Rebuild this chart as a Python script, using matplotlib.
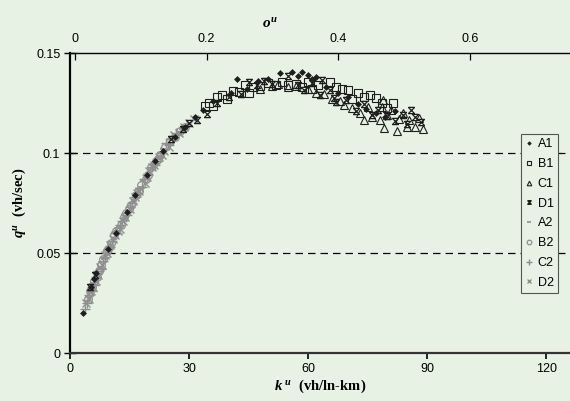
import numpy as np
import matplotlib
matplotlib.use("Agg")
import matplotlib.pyplot as plt
from matplotlib.path import Path

# (k [vh/ln-km], q [vh/sec])
A1 = [(3.3, 0.020), (5.2, 0.033), (6.0, 0.037), (6.6, 0.040), (9.5, 0.052), (11.5, 0.060),
      (14.3, 0.0705), (16.5, 0.079), (19.5, 0.089), (21.5, 0.096), (23.5, 0.101), (26.5, 0.108),
      (29.0, 0.113), (31.5, 0.118), (33.5, 0.1215), (36.0, 0.126), (40.5, 0.130), (42.0, 0.137),
      (44.5, 0.132), (47.5, 0.136), (50.0, 0.137), (53.0, 0.140), (56.0, 0.1405), (57.5, 0.1385),
      (58.5, 0.1405), (60.0, 0.139), (61.0, 0.137), (62.0, 0.138), (64.5, 0.133), (67.5, 0.130),
      (70.0, 0.128), (72.5, 0.1245), (74.5, 0.122), (77.0, 0.120), (79.5, 0.118), (82.0, 0.121)]
B1 = [(34.0, 0.1235), (35.0, 0.125), (36.0, 0.1235), (37.0, 0.128), (38.3, 0.129), (39.5, 0.127),
      (41.0, 0.131), (42.5, 0.1305), (44.0, 0.134), (45.0, 0.130), (46.0, 0.133), (48.0, 0.1335),
      (50.0, 0.135), (52.0, 0.134), (53.5, 0.1355), (55.0, 0.134), (57.0, 0.1345), (58.5, 0.133),
      (60.0, 0.1355), (61.0, 0.132), (62.5, 0.134), (65.5, 0.1355), (67.0, 0.133), (68.5, 0.132),
      (70.0, 0.1315), (71.0, 0.127), (72.5, 0.130), (74.0, 0.128), (75.5, 0.129), (77.0, 0.1275),
      (78.5, 0.125), (80.0, 0.1225), (81.5, 0.125)]
C1 = [(48.0, 0.132), (51.0, 0.1335), (52.5, 0.1345), (55.0, 0.133), (57.0, 0.1335), (60.0, 0.132),
      (62.0, 0.130), (64.0, 0.1295), (66.0, 0.127), (68.0, 0.126), (69.0, 0.124), (71.0, 0.1225),
      (73.0, 0.120), (74.0, 0.1165), (75.0, 0.123), (76.0, 0.118), (78.0, 0.1165), (78.6, 0.123),
      (79.0, 0.1265), (79.2, 0.1125), (80.0, 0.119), (81.0, 0.1215), (82.4, 0.111), (83.0, 0.117),
      (84.0, 0.120), (85.0, 0.113), (85.5, 0.1165), (87.0, 0.113), (88.0, 0.1175), (89.0, 0.112)]
D1 = [(5.0, 0.033), (6.3, 0.039), (25.5, 0.107), (28.5, 0.112), (30.0, 0.115), (32.0, 0.1165),
      (34.5, 0.1195), (37.0, 0.125), (40.0, 0.128), (43.0, 0.1295), (45.0, 0.1355), (47.0, 0.134),
      (49.0, 0.136), (51.0, 0.1345), (55.0, 0.1385), (57.5, 0.134), (59.0, 0.1315), (61.0, 0.135),
      (63.0, 0.129), (63.5, 0.1365), (65.5, 0.1315), (66.5, 0.1275), (67.0, 0.1255), (69.5, 0.1265),
      (72.0, 0.121), (74.0, 0.1245), (76.0, 0.119), (77.5, 0.1215), (80.0, 0.1185), (82.0, 0.116),
      (84.0, 0.119), (85.0, 0.1145), (86.0, 0.1215), (87.0, 0.118), (88.5, 0.1155)]
A2 = [(4.2, 0.026), (4.8, 0.028), (5.1, 0.030), (5.9, 0.035), (6.3, 0.037), (7.4, 0.042),
      (7.9, 0.043), (8.6, 0.047), (9.8, 0.053), (10.3, 0.054), (11.0, 0.057), (11.8, 0.061),
      (12.3, 0.063), (13.5, 0.067), (14.0, 0.068), (14.8, 0.071), (15.5, 0.075), (16.1, 0.076),
      (17.2, 0.082), (17.8, 0.083), (18.4, 0.086), (19.7, 0.090), (20.3, 0.092), (20.9, 0.094),
      (22.1, 0.097), (22.7, 0.100), (23.4, 0.102), (24.6, 0.104), (25.8, 0.107), (27.0, 0.109),
      (28.3, 0.112)]
B2 = [(4.5, 0.027), (5.0, 0.031), (5.6, 0.033), (6.1, 0.036), (6.8, 0.038), (7.3, 0.041),
      (7.9, 0.044), (8.4, 0.047), (9.2, 0.051), (9.7, 0.052), (10.4, 0.055), (11.1, 0.059),
      (11.7, 0.061), (12.9, 0.064), (13.6, 0.068), (14.1, 0.070), (14.9, 0.072), (15.4, 0.074),
      (16.6, 0.079), (17.4, 0.081), (17.9, 0.084), (19.1, 0.087), (19.6, 0.089), (20.3, 0.093),
      (21.6, 0.096), (22.2, 0.097), (22.8, 0.099), (24.0, 0.103), (25.3, 0.106), (26.5, 0.108),
      (27.7, 0.111), (29.0, 0.113)]
C2 = [(3.8, 0.022), (4.4, 0.025), (4.9, 0.029), (5.5, 0.031), (6.0, 0.034), (6.6, 0.038),
      (7.1, 0.041), (7.7, 0.042), (8.2, 0.046), (8.9, 0.048), (9.5, 0.052), (10.1, 0.053),
      (10.7, 0.056), (11.4, 0.060), (11.9, 0.060), (12.6, 0.064), (13.2, 0.066), (14.4, 0.069),
      (15.1, 0.073), (15.7, 0.075), (16.4, 0.078), (16.9, 0.080), (18.1, 0.083), (18.7, 0.087),
      (19.4, 0.089), (20.6, 0.093), (21.3, 0.094), (21.8, 0.096), (23.1, 0.100), (24.3, 0.105),
      (25.0, 0.104), (25.6, 0.107), (26.8, 0.110), (28.0, 0.111), (29.5, 0.114)]
D2 = [(4.0, 0.025), (4.7, 0.027), (5.3, 0.031), (5.8, 0.033), (6.5, 0.036), (7.0, 0.039),
      (7.6, 0.043), (8.1, 0.044), (8.9, 0.049), (9.4, 0.050), (10.1, 0.054), (10.8, 0.057),
      (11.3, 0.059), (12.0, 0.061), (12.6, 0.062), (13.3, 0.066), (13.8, 0.068), (15.0, 0.072),
      (15.8, 0.076), (16.3, 0.078), (17.0, 0.080), (17.5, 0.081), (18.8, 0.085), (19.3, 0.088),
      (20.0, 0.091), (20.7, 0.093), (21.2, 0.094), (22.5, 0.098), (23.2, 0.099), (23.7, 0.101),
      (24.9, 0.103), (26.2, 0.109), (27.4, 0.110), (28.7, 0.113), (30.0, 0.115), (31.2, 0.117)]

x_ticks = [0, 30, 60, 90, 120]
y_ticks = [0, 0.05, 0.1, 0.15]
top_ticks = [0, 0.2, 0.4, 0.6]
y_tick_labels = ["0", "0.05", "0.1", "0.15"]
top_tick_labels = ["0", "0.2", "0.4", "0.6"]

bg = "#e7f2e4"
dark = "#1e1e1e"
grey = "#8f8f8f"

# x with bars (Excel style star marker)
xbar = Path([(-1, -1), (1, 1), (-1, 1), (1, -1), (-1, 1), (1, 1), (-1, -1), (1, -1)],
            [Path.MOVETO, Path.LINETO, Path.MOVETO, Path.LINETO,
             Path.MOVETO, Path.LINETO, Path.MOVETO, Path.LINETO])

plt.rcParams["font.family"] = ["Liberation Sans", "DejaVu Sans"]
plt.rcParams["mathtext.fontset"] = "custom"
plt.rcParams["mathtext.it"] = "Liberation Serif:italic:bold"
plt.rcParams["mathtext.bf"] = "Liberation Serif:italic:bold"
plt.rcParams["mathtext.rm"] = "Liberation Serif:bold"

fig = plt.figure(figsize=(5.7, 4.01), dpi=100, facecolor=bg)
ax = fig.add_axes([70 / 570, 48 / 401, 500 / 570, 300 / 401], facecolor=bg)

series = [
    ("A2", A2, dict(marker="_", color=grey, ms=5, mew=1.2, ls="none")),
    ("B2", B2, dict(marker="o", mfc="none", mec=grey, ms=5.5, mew=0.9, ls="none")),
    ("C2", C2, dict(marker="+", color=grey, ms=6.5, mew=1.0, ls="none")),
    ("D2", D2, dict(marker="x", color=grey, ms=5.5, mew=1.0, ls="none")),
    ("A1", A1, dict(marker="D", color=dark, ms=3, mew=0.5, ls="none")),
    ("B1", B1, dict(marker="s", mfc="none", mec=dark, ms=5.5, mew=0.8, ls="none")),
    ("C1", C1, dict(marker="^", mfc="none", mec=dark, ms=5.5, mew=0.8, ls="none")),
    ("D1", D1, dict(marker=xbar, mfc="none", mec=dark, ms=4.5, mew=0.9, ls="none")),
]
handles = {}
for name, pts, kw in series:
    arr = np.array(pts)
    h, = ax.plot(arr[:, 0], arr[:, 1], label=name, zorder=3, **kw)
    handles[name] = h

ax.set_xlim(0, 126)
ax.set_ylim(0, 0.15)
ax.set_xticks(x_ticks)
ax.set_yticks(y_ticks)
ax.set_yticklabels(y_tick_labels)
for yv in [0.05, 0.1]:
    ax.axhline(yv, color="black", lw=0.9, ls=(0, (6, 4)), zorder=1)

for s in ["top", "right"]:
    ax.spines[s].set_visible(False)
ax.spines["left"].set_linewidth(1.6)
ax.spines["bottom"].set_linewidth(1.6)
ax.spines["bottom"].set_color("#333333")
ax.tick_params(axis="x", direction="out", length=4, width=1.2, labelsize=9, pad=3)
ax.tick_params(axis="y", direction="inout", length=8, width=1.0, labelsize=9, pad=3)

ax.set_xlabel(r"$k^{\ u}$" + "  (vh/ln-km)", fontsize=10.5,
              fontweight="bold", family="Liberation Serif", labelpad=2)
ax.set_ylabel(r"$q^{u}$" + "  (vh/sec)", fontsize=10.5, fontweight="bold",
              family="Liberation Serif", labelpad=6)

ax2 = ax.twiny()
ax2.set_xlim(-5 / 658.3, 495 / 658.3)
ax2.set_xticks(top_ticks)
ax2.set_xticklabels(top_tick_labels)
for s in ["bottom", "right", "left"]:
    ax2.spines[s].set_visible(False)
ax2.spines["top"].set_linewidth(1.0)
ax2.tick_params(axis="x", direction="in", length=5, width=0.9, labelsize=9, pad=6)
ax2.set_xlabel(r"$o^{u}$", fontsize=11)
ax2.xaxis.set_label_coords(0.4, 1.085)

order = ["A1", "B1", "C1", "D1", "A2", "B2", "C2", "D2"]
leg = ax.legend([handles[n] for n in order], order, loc="upper left",
                bbox_to_anchor=(451 / 500, (353 - 134) / 300), fontsize=9,
                frameon=True, fancybox=False, facecolor=bg, edgecolor="#555555",
                framealpha=1, handlelength=0.6, handletextpad=0.4, borderpad=0.35,
                labelspacing=0.62, markerscale=0.6, borderaxespad=0)
leg.get_frame().set_linewidth(0.8)
leg.set_zorder(5)

fig.savefig("out.png", dpi=100, facecolor=bg)
